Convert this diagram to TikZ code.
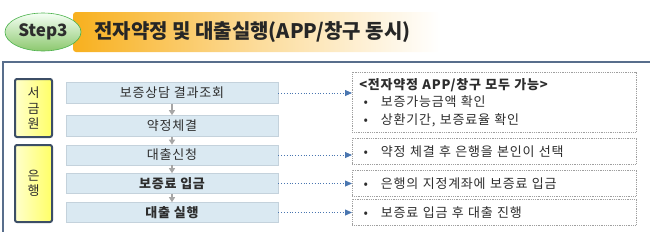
\documentclass[tikz,border=0pt]{standalone}
\usepackage{fontspec}
\setmainfont{Noto Sans CJK KR}
\newfontfamily\spacedfont{Noto Sans CJK KR}[LetterSpace=6.0]
\usepackage{xcolor}
\definecolor{framegray}{RGB}{88, 110, 140}
\definecolor{stepfill}{RGB}{218, 233, 242}
\definecolor{stepline}{RGB}{196, 210, 220}
\definecolor{labelline}{RGB}{60, 78, 102}
\definecolor{linkblue}{RGB}{74, 118, 176}
\definecolor{bannerorange}{RGB}{248, 176, 30}
\definecolor{stepgreen}{RGB}{140, 200, 110}
\definecolor{textgray}{RGB}{45, 45, 45}
\usetikzlibrary{arrows.meta, shapes.geometric}

\begin{document}
\begin{tikzpicture}[x=1pt, y=-1pt,
    stepbox/.style={draw=stepline, line width=0.6pt, fill=stepfill,
      minimum width=212pt, minimum height=21pt, inner sep=0pt,
      text=textgray, font=\spacedfont\fontsize{13}{14}\selectfont},
    labelbox/.style={draw=labelline, line width=2pt, rounded corners=2pt,
      left color=yellow!20, right color=yellow!60,
      minimum width=37pt, inner sep=0pt, align=center,
      text=textgray, font=\fontsize{13}{15.5}\selectfont},
    notebox/.style={draw=gray!75, line width=0.5pt, dash pattern=on 1pt off 0.8pt,
      fill=white, minimum width=284pt, text width=270pt, inner xsep=7pt,
      inner ysep=0pt, align=left, anchor=north west,
      text=textgray, font=\spacedfont\fontsize{13}{17.5}\selectfont},
    flowarrow/.style={draw=gray!70, line width=1.4pt,
      -{Triangle[width=6pt, length=5pt]}},
    linkarrow/.style={draw=linkblue, line width=0.8pt, dotted,
      -{Triangle[width=6pt, length=7pt]}}
  ]
  \useasboundingbox (0,0) rectangle (650,231);
  \clip (0,0) rectangle (650,231);

  % title
  \shade[left color=bannerorange, right color=white,
    middle color=bannerorange!45, rounded corners=3pt]
    (73,12) rectangle (440,52);
  \node[ellipse, draw=gray!60!green, line width=0.6pt,
    top color=green!4, bottom color=stepgreen,
    minimum width=76pt, minimum height=38pt, inner sep=0pt,
    font=\bfseries\fontsize{17}{17}\selectfont, text=textgray] (step) at (43,32) {Step3};
  \node[anchor=west, inner sep=0pt, text=black!85,
    font=\bfseries\fontsize{20}{20}\selectfont] (title) at (94,32)
    {전자약정 및 대출실행(APP/창구 동시)};

  % frame
  \draw[framegray, line width=1.6pt] (3,700) -- (3,62) -- (700,62);

  % left labels
  \node[labelbox, minimum height=58pt] (lab1) at (33.5,108) {서\\금\\원};
  \node[labelbox, minimum height=77pt] (lab2) at (33.5,183.5) {은\\행};

  % steps
  \node[stepbox] (s1) at (172,93) {보증상담 결과조회};
  \node[stepbox] (s2) at (172,126) {약정체결};
  \node[stepbox, minimum height=20pt] (s3) at (172,155) {대출신청};
  \node[stepbox, minimum height=20pt, font=\spacedfont\bfseries\fontsize{13}{14}\selectfont] (s4) at (172,183.5) {보증료 입금};
  \node[stepbox, minimum height=20pt, font=\spacedfont\bfseries\fontsize{13}{14}\selectfont] (s5) at (172,212.5) {대출 실행};

  \draw[flowarrow] (s1) -- (s2);
  \draw[flowarrow] (s2) -- (s3);
  \draw[flowarrow] (s3) -- (s4);
  \draw[flowarrow] (s4) -- (s5);

  % notes
  \node[notebox, minimum height=60pt] (n1) at (352,72)
    {\textbf{<전자약정 APP/창구 모두 가능>}\\
     \ \textbullet\quad 보증가능금액 확인\\
     \ \textbullet\quad 상환기간, 보증료율 확인};
  \node[notebox, minimum height=26pt] (n2) at (352,138)
    {\ \textbullet\quad 약정 체결 후 은행을 본인이 선택};
  \node[notebox, minimum height=26pt] (n3) at (352,170)
    {\ \textbullet\quad 은행의 지정계좌에 보증료 입금};
  \node[notebox, minimum height=26pt] (n4) at (352,199)
    {\ \textbullet\quad 보증료 입금 후 대출 진행};

  \draw[linkarrow] (s1.east) -- (s1.east -| n1.west);
  \draw[linkarrow] (s3.east) -- (s3.east -| n2.west);
  \draw[linkarrow] (s4.east) -- (s4.east -| n3.west);
  \draw[linkarrow] (s5.east) -- (s5.east -| n4.west);
\end{tikzpicture}
\end{document}
